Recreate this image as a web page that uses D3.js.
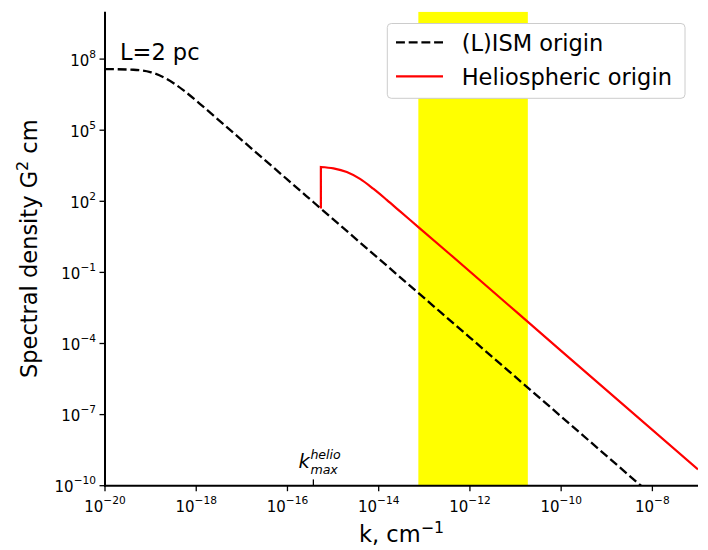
<!DOCTYPE html>
<html>
<head>
<meta charset="utf-8">
<script src="https://cdn.jsdelivr.net/npm/d3@7"></script>
<style>
  html, body { margin: 0; padding: 0; background: #fff; }
  svg { display: block; font-family: "DejaVu Sans", sans-serif; }
</style>
</head>
<body>
<svg id="chart" width="708" height="550"></svg>
<script>
// ---- data ----
const ismK = [1e-20, 4.2e-20, 9.8e-20, 2.2e-19, 5.2e-19, 1.2e-18, 2.8e-18, 6.5e-18, 1.5e-17, 1e-16, 1e-14, 1e-12, 1e-10, 5.6e-9, 1e-8];
const ismP = [3.8e7, 3.55e7, 2.85e7, 1.5e7, 4.9e6, 1.3e6, 3.2e5, 7.8e4, 1.94e4, 8.2e2, 0.38, 1.78e-4, 8.3e-8, 1e-10, 3.8e-11];

const helioK = [5.4e-16, 5.4e-16, 1.02e-15, 2.0e-15, 3.9e-15, 7.6e-15, 1.5e-14, 2.95e-14, 7.4e-14, 3.7e-13, 1e-10, 1e-7];
const helioP = [50, 2.8e3, 2.45e3, 1.72e3, 8.8e2, 3.4e2, 1.15e2, 37.5, 8.2, 0.57, 4.9e-5, 4.9e-10];

const bandK = [7.4e-14, 1.86e-11];
const kMaxHelio = 3.7e-16;

const xTickExp = [-20, -18, -16, -14, -12, -10, -8];
const yTickExp = [-10, -7, -4, -1, 2, 5, 8];

const seriesNames = ["(L)ISM origin", "Heliospheric origin"];
const seriesColors = ["#000000", "#ff0000"];

// ---- layout ----
const svg = d3.select("#chart");
const pLeft = 105, pRight = 698, pTop = 11.7, pBottom = 485.7;
const x = d3.scaleLog().domain([1e-20, 1e-7]).range([pLeft, pRight]);
const y = d3.scaleLog().domain([1e-10, 1e10]).range([pBottom, pTop]);

svg.append("defs").append("clipPath").attr("id", "plotclip")
  .append("rect").attr("x", pLeft).attr("y", pTop).attr("width", pRight - pLeft).attr("height", pBottom - pTop);

const plot = svg.append("g").attr("clip-path", "url(#plotclip)");

// yellow band
plot.append("rect")
  .attr("x", x(bandK[0])).attr("y", pTop)
  .attr("width", x(bandK[1]) - x(bandK[0]))
  .attr("height", pBottom - pTop)
  .attr("fill", "#ffff00");

// ISM dashed line
const ism = ismK.map((k, i) => [k, ismP[i]]);
const lineMono = d3.line().x(d => x(d[0])).y(d => y(d[1])).curve(d3.curveMonotoneX);
plot.append("path")
  .attr("d", lineMono(ism))
  .attr("fill", "none").attr("stroke", seriesColors[0])
  .attr("stroke-width", 2.3).attr("stroke-dasharray", "8.9,3.8");

// Heliospheric line: vertical jump then curve
const helio = helioK.map((k, i) => [k, helioP[i]]);
const curvePart = lineMono(helio.slice(1));
const dHelio = `M${x(helio[0][0])},${y(helio[0][1])}L` + curvePart.slice(1);
plot.append("path")
  .attr("d", dHelio)
  .attr("fill", "none").attr("stroke", seriesColors[1])
  .attr("stroke-width", 2.2).attr("stroke-linejoin", "miter");

// ---- axes ----
const axisG = svg.append("g");
xTickExp.forEach(e => {
  const px = x(Math.pow(10, e));
  axisG.append("line").attr("x1", px).attr("x2", px).attr("y1", pBottom).attr("y2", pBottom + 5.5)
    .attr("stroke", "#000").attr("stroke-width", 1.3);
  const t = axisG.append("text").attr("x", px).attr("y", pBottom + 26).attr("text-anchor", "middle")
    .attr("font-size", 15).attr("fill", "#000");
  t.append("tspan").text("10");
  t.append("tspan").attr("dy", -7.8).attr("font-size", 10.6).text(e < 0 ? "\u2212" + (-e) : String(e));
});
yTickExp.forEach(e => {
  const py = y(Math.pow(10, e));
  axisG.append("line").attr("x1", pLeft - 5.5).attr("x2", pLeft).attr("y1", py).attr("y2", py)
    .attr("stroke", "#000").attr("stroke-width", 1.3);
  const t = axisG.append("text").attr("x", pLeft - 9).attr("y", py + 6.5).attr("text-anchor", "end")
    .attr("font-size", 15).attr("fill", "#000");
  t.append("tspan").text("10");
  t.append("tspan").attr("dy", -7.8).attr("font-size", 10.6).text(e < 0 ? "\u2212" + (-e) : String(e));
});
// k_max tick (inward) and its label
const pk = x(kMaxHelio);
axisG.append("line").attr("x1", pk).attr("x2", pk).attr("y1", pBottom - 6.3).attr("y2", pBottom)
  .attr("stroke", "#000").attr("stroke-width", 1.3);
const km = axisG.append("text").attr("x", pk - 15).attr("y", 468)
  .attr("font-style", "italic").attr("fill", "#000");
km.append("tspan").attr("font-size", 19.5).text("k");
km.append("tspan").attr("x", pk - 3).attr("dy", -9.3).attr("font-size", 12.6).text("helio");
km.append("tspan").attr("x", pk - 3).attr("dy", 14.8).attr("font-size", 12.6).text("max");

// spines
axisG.append("line").attr("x1", pLeft).attr("x2", pLeft).attr("y1", pTop).attr("y2", pBottom + 1)
  .attr("stroke", "#000").attr("stroke-width", 2);
axisG.append("line").attr("x1", pLeft - 1).attr("x2", pRight).attr("y1", pBottom).attr("y2", pBottom)
  .attr("stroke", "#000").attr("stroke-width", 2);

// axis labels
const xl = svg.append("text").attr("x", (pLeft + pRight) / 2).attr("y", 541.7).attr("text-anchor", "middle")
  .attr("font-size", 22.5).attr("fill", "#000");
xl.append("tspan").text("k, cm");
xl.append("tspan").attr("dy", -9).attr("font-size", 15.8).text("\u22121");

const yl = svg.append("text")
  .attr("transform", `translate(37,${(pTop + pBottom) / 2}) rotate(-90)`)
  .attr("text-anchor", "middle").attr("font-size", 22.5).attr("fill", "#000");
yl.append("tspan").text("Spectral density G");
yl.append("tspan").attr("dy", -9).attr("font-size", 15.8).text("2");
yl.append("tspan").attr("dy", 9).text(" cm");

// L=2 pc
svg.append("text").attr("x", 120).attr("y", 59.7).attr("font-size", 22.5).attr("fill", "#000").text("L=2 pc");

// ---- legend ----
const lg = svg.append("g");
lg.append("rect").attr("x", 387.3).attr("y", 23.5).attr("width", 297.7).attr("height", 74.8)
  .attr("rx", 4).attr("fill", "#fff").attr("stroke", "#cccccc").attr("stroke-width", 1);
const rows = [42.3, 76.3];
seriesNames.forEach((name, i) => {
  lg.append("line").attr("x1", 396).attr("x2", 443).attr("y1", rows[i]).attr("y2", rows[i])
    .attr("stroke", seriesColors[i]).attr("stroke-width", i === 0 ? 2.3 : 2.2)
    .attr("stroke-dasharray", i === 0 ? "8.9,3.8" : null);
  lg.append("text").attr("x", 461.7).attr("y", rows[i] + 8.2).attr("font-size", 22.5)
    .attr("fill", "#000").text(name);
});
</script>
</body>
</html>
